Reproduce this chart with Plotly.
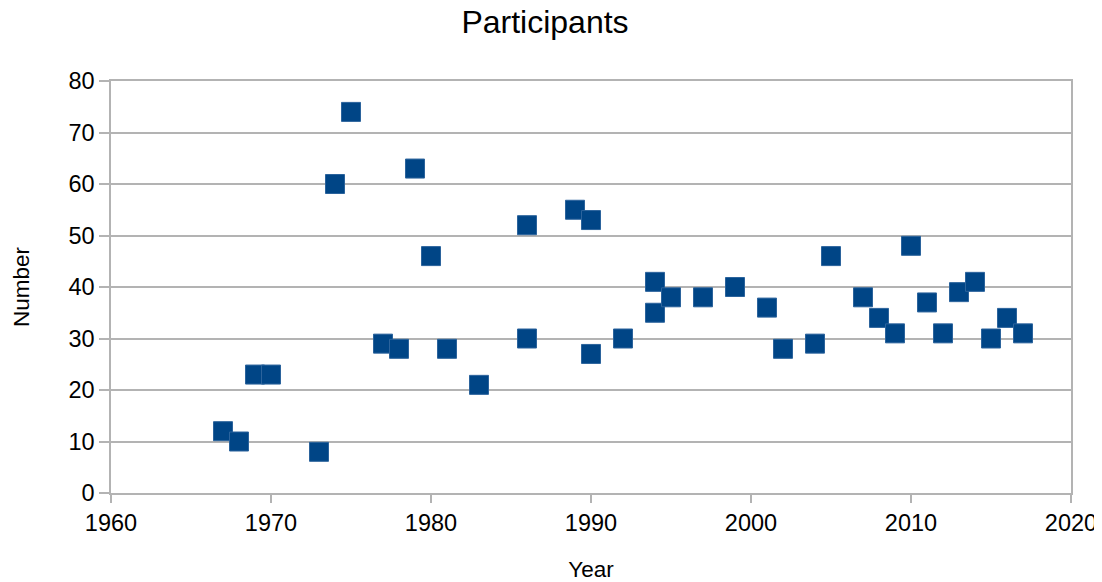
import plotly.graph_objects as go

years = [1967, 1968, 1969, 1970, 1973, 1974, 1975, 1977, 1978, 1979, 1980, 1981,
         1983, 1986, 1986, 1989, 1990, 1990, 1992, 1994, 1994, 1995, 1997, 1999,
         2001, 2002, 2004, 2005, 2007, 2008, 2009, 2010, 2011, 2012, 2013, 2014,
         2015, 2016, 2017]
participants = [12, 10, 23, 23, 8, 60, 74, 29, 28, 63, 46, 28,
                21, 52, 30, 55, 53, 27, 30, 41, 35, 38, 38, 40,
                36, 28, 29, 46, 38, 34, 31, 48, 37, 31, 39, 41,
                30, 34, 31]

x_ticks = [1960, 1970, 1980, 1990, 2000, 2010, 2020]
y_ticks = [0, 10, 20, 30, 40, 50, 60, 70, 80]

FONT = "Liberation Sans, Arial, sans-serif"
GRID = "#b3b3b3"
W, H = 1094, 574  # page body has an 8px margin

fig = go.Figure()
fig.add_trace(go.Scatter(
    x=years, y=participants, mode="markers",
    marker=dict(symbol="square", size=19, color="#004586",
                line=dict(width=1, color="#2b639c")),
    showlegend=False,
))

fig.update_layout(
    width=W, height=H,
    paper_bgcolor="white", plot_bgcolor="white",
    margin=dict(l=103, r=31, t=73, b=89),
    font=dict(family=FONT, color="#000000"),
    title=dict(text="Participants", x=537 / W, xref="container", xanchor="center",
               y=1 - 14 / H, yref="container", yanchor="middle",
               font=dict(size=32, family=FONT, color="#000000")),
)

fig.update_xaxes(
    range=[1960, 2020], tickvals=x_ticks, ticktext=[str(v) for v in x_ticks],
    showgrid=False, zeroline=False, automargin=False,
    showline=True, linecolor=GRID, linewidth=1.5, mirror=True,
    ticks="outside", ticklen=8, tickcolor=GRID, tickwidth=1.5,
    tickfont=dict(size=23.5, family=FONT, color="#000000"),
    title=dict(text="Year", font=dict(size=22.5, family=FONT, color="#000000"), standoff=28),
)
fig.update_yaxes(
    range=[0, 80], tickvals=y_ticks, ticktext=[str(v) for v in y_ticks],
    showgrid=True, gridcolor=GRID, gridwidth=1.5, zeroline=False, automargin=False,
    showline=True, linecolor=GRID, linewidth=1.5, mirror=True,
    ticks="outside", ticklen=10, tickcolor=GRID, tickwidth=1.5,
    tickfont=dict(size=23.5, family=FONT, color="#000000"),
    title=dict(text="Number", font=dict(size=22.5, family=FONT, color="#000000"), standoff=33),
)

fig.write_html("out.html")
